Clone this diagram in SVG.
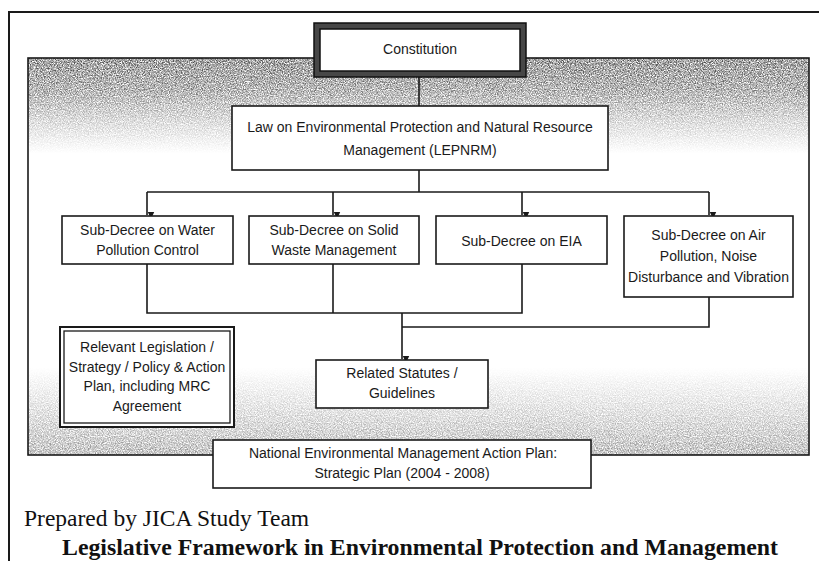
<svg xmlns="http://www.w3.org/2000/svg" width="819" height="561" viewBox="0 0 819 561">
  <style>
    .t { font-family: "Liberation Sans", Arial, sans-serif; font-size: 14px; fill: #1a1a1a; text-anchor: middle; }
    .box { fill: #fff; stroke: #1a1a1a; stroke-width: 1.6; }
    .con { fill: none; stroke: #1a1a1a; stroke-width: 1.6; }
    .cap { font-family: "Liberation Serif", "Times New Roman", serif; fill: #111; }
  </style>
  <defs>
    <marker id="arrow" markerUnits="userSpaceOnUse" markerWidth="8" markerHeight="8" viewBox="0 0 8 8" refX="4" refY="8" orient="auto-start-reverse">
      <path d="M0.8 1 L4 8 L7.2 1 Z" fill="#1a1a1a" transform="rotate(-90 4 4)"/>
    </marker>
    <!-- tonal band of the shaded panel: darker at the top, clear in the middle, light at the bottom -->
    <linearGradient id="shade" x1="0" y1="0" x2="0" y2="1">
      <stop offset="0" stop-color="#000" stop-opacity="0.36"/>
      <stop offset="0.08" stop-color="#000" stop-opacity="0.28"/>
      <stop offset="0.16" stop-color="#000" stop-opacity="0.13"/>
      <stop offset="0.24" stop-color="#000" stop-opacity="0"/>
      <stop offset="0.78" stop-color="#000" stop-opacity="0"/>
      <stop offset="0.88" stop-color="#000" stop-opacity="0.1"/>
      <stop offset="1" stop-color="#000" stop-opacity="0.22"/>
    </linearGradient>
    <!-- grain: modulate the band's alpha by fine noise -->
    <filter id="grain" filterUnits="userSpaceOnUse" x="28" y="58" width="781" height="397" color-interpolation-filters="sRGB">
      <feTurbulence type="fractalNoise" baseFrequency="0.85" numOctaves="3" seed="7" result="noise"/>
      <feColorMatrix in="noise" type="matrix" values="0 0 0 0 0  0 0 0 0 0  0 0 0 0 0  2 0 0 0 -0.5" result="mask"/>
      <feComposite in="SourceGraphic" in2="mask" operator="arithmetic" k1="2" k2="0" k3="0" k4="0"/>
    </filter>
  </defs>

  <rect width="819" height="561" fill="#fff"/>

  <!-- page frame -->
  <path d="M819 12 H9 V561" fill="none" stroke="#1a1a1a" stroke-width="2"/>

  <!-- shaded panel -->
  <g id="panel">
    <rect x="28" y="58" width="781" height="397" fill="url(#shade)" filter="url(#grain)"/>
    <rect x="28" y="58" width="781" height="397" fill="none" stroke="#1a1a1a" stroke-width="1.6"/>
  </g>

  <!-- connectors -->
  <g id="connectors">
    <path class="con" d="M419 77 V106"/>
    <path class="con" d="M419 170 V192"/>
    <path class="con" d="M147 192 H709"/>
    <path class="con" d="M147 192 V215" marker-end="url(#arrow)"/>
    <path class="con" d="M333 192 V215" marker-end="url(#arrow)"/>
    <path class="con" d="M522 192 V215" marker-end="url(#arrow)"/>
    <path class="con" d="M709 192 V215" marker-end="url(#arrow)"/>
    <path class="con" d="M147 264 V313 H522 V264"/>
    <path class="con" d="M333 264 V313"/>
    <path class="con" d="M709 297 V327 H402"/>
    <path class="con" d="M402 313 V359" marker-end="url(#arrow)"/>
  </g>

  <g id="constitution">
    <rect x="314" y="23" width="212" height="54" fill="#474747" stroke="#111" stroke-width="1.5"/>
    <rect x="320" y="29" width="200" height="42" fill="#fff" stroke="#111" stroke-width="1.5"/>
    <text class="t" x="420" y="54">Constitution</text>
  </g>

  <g id="lepnrm">
    <rect class="box" x="232" y="106" width="376" height="64"/>
    <text class="t" x="420" y="132">Law  on Environmental Protection and Natural Resource</text>
    <text class="t" x="420" y="155">Management (LEPNRM)</text>
  </g>

  <g id="water">
    <rect class="box" x="62" y="216" width="171" height="48"/>
    <text class="t" x="147.5" y="235">Sub-Decree on Water</text>
    <text class="t" x="147.5" y="255">Pollution Control</text>
  </g>

  <g id="solid-waste">
    <rect class="box" x="249" y="216" width="170" height="48"/>
    <text class="t" x="334" y="235">Sub-Decree on Solid</text>
    <text class="t" x="334" y="255">Waste Management</text>
  </g>

  <g id="eia">
    <rect class="box" x="436" y="216" width="171" height="48"/>
    <text class="t" x="521.5" y="246">Sub-Decree on EIA</text>
  </g>

  <g id="air">
    <rect class="box" x="624" y="216" width="169" height="81"/>
    <text class="t" x="708.5" y="240">Sub-Decree on Air</text>
    <text class="t" x="708.5" y="261">Pollution, Noise</text>
    <text class="t" x="708.5" y="282">Disturbance and Vibration</text>
  </g>

  <g id="relevant">
    <rect x="60" y="327" width="174" height="100" fill="#fff" stroke="#1a1a1a" stroke-width="2"/>
    <rect x="64" y="331" width="166" height="92" fill="none" stroke="#1a1a1a" stroke-width="1.3"/>
    <text class="t" x="147" y="352">Relevant Legislation /</text>
    <text class="t" x="147" y="372">Strategy / Policy &amp; Action</text>
    <text class="t" x="147" y="391">Plan, including MRC</text>
    <text class="t" x="147" y="411">Agreement</text>
  </g>

  <g id="related">
    <rect class="box" x="316" y="360" width="172" height="48"/>
    <text class="t" x="402" y="378">Related Statutes /</text>
    <text class="t" x="402" y="398">Guidelines</text>
  </g>

  <g id="neap">
    <rect class="box" x="213" y="440" width="378" height="48" stroke-width="2"/>
    <text class="t" x="403" y="458">National Environmental Management Action Plan:</text>
    <text class="t" x="402" y="478">Strategic Plan (2004 - 2008)</text>
  </g>

  <!-- captions -->
  <text class="cap" x="24" y="526" font-size="23.5">Prepared by JICA Study Team</text>
  <text class="cap" x="62" y="555" font-size="24" font-weight="bold" textLength="716" lengthAdjust="spacingAndGlyphs">Legislative Framework in Environmental Protection and Management</text>
</svg>
